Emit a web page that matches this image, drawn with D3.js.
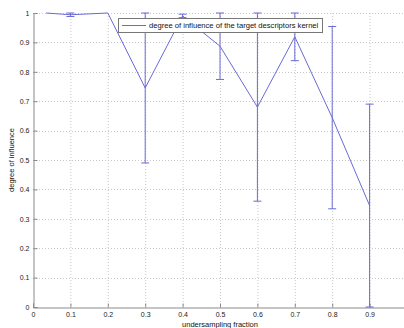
<!DOCTYPE html>
<html><head><meta charset="utf-8">
<script src="https://cdn.jsdelivr.net/npm/d3@7"></script>
<style>html,body{margin:0;padding:0;background:#fff;overflow:hidden}</style>
</head><body>
<svg id="c" width="404" height="328"></svg>
<script>
const xVals = [0.035, 0.1, 0.2, 0.3, 0.4, 0.5, 0.6, 0.7, 0.8, 0.9];
const yVals = [1.0, 0.994, 1.0, 0.745, 0.99, 0.887, 0.68, 0.919, 0.644, 0.345];
const errVals = [0, 0.006, 0, 0.255, 0.006, 0.113, 0.32, 0.081, 0.31, 0.345];
const xTicks = [0, 0.1, 0.2, 0.3, 0.4, 0.5, 0.6, 0.7, 0.8, 0.9];
const yTicks = [0, 0.1, 0.2, 0.3, 0.4, 0.5, 0.6, 0.7, 0.8, 0.9, 1];
const legendLabel = "degree of influence of the target descriptors kernel";
const xLabel = "undersampling fraction";
const yLabel = "degree of influence";

const svg = d3.select("#c");
const L = 33, R = 407, T = 13, B = 307;
const x = d3.scaleLinear().domain([0, 1]).range([L, R]);
const y = d3.scaleLinear().domain([0, 1]).range([B, T]);
const lineCol = "#6a6ad8";
const font = "'Liberation Sans', Arial, sans-serif";

// grid
const g = svg.append("g");
g.selectAll(".vg").data(xTicks.filter(d => d > 0)).join("line")
  .attr("x1", d => x(d) + 0.5).attr("x2", d => x(d) + 0.5)
  .attr("y1", T).attr("y2", B)
  .attr("stroke", "#c8c8c8").attr("stroke-width", 1).attr("stroke-dasharray", "1,2");
g.selectAll(".hg").data(yTicks.filter(d => d > 0)).join("line")
  .attr("y1", d => Math.round(y(d)) + 0.5).attr("y2", d => Math.round(y(d)) + 0.5)
  .attr("x1", L).attr("x2", R)
  .attr("stroke", "#c8c8c8").attr("stroke-width", 1).attr("stroke-dasharray", "1,2");

// axes
const xAxis = d3.axisBottom(x).tickValues(xTicks).tickSize(-4).tickPadding(5)
  .tickFormat(d => d === 0 ? "0" : d3.format(".1f")(d));
const yAxis = d3.axisLeft(y).tickValues(yTicks).tickSize(-4).tickPadding(4)
  .tickFormat(d => (d === 0 || d === 1) ? String(d) : d3.format(".1f")(d));
const ax = svg.append("g").attr("transform", `translate(0,${B + 0.5})`).call(xAxis);
const ay = svg.append("g").attr("transform", `translate(${L + 0.5},0)`).call(yAxis);
[ax, ay].forEach(a => {
  a.select(".domain").attr("stroke", "#8a8a8a");
  a.selectAll(".tick line").attr("stroke", "#8a8a8a");
  a.selectAll("text").attr("fill", "#222").style("font-family", font).style("font-size", "7px");
});

// error bars
const eb = svg.append("g");
const data = xVals.map((v, i) => ({x: v, y: yVals[i], e: errVals[i]}));
const ed = data.filter(d => d.e > 0);
eb.selectAll(".ev").data(ed).join("line")
  .attr("x1", d => x(d.x)).attr("x2", d => x(d.x))
  .attr("y1", d => y(d.y - d.e)).attr("y2", d => y(d.y + d.e))
  .attr("stroke", lineCol).attr("stroke-width", 1);
eb.selectAll(".ct").data(ed).join("line")
  .attr("x1", d => x(d.x) - 4).attr("x2", d => x(d.x) + 4)
  .attr("y1", d => y(d.y + d.e)).attr("y2", d => y(d.y + d.e))
  .attr("stroke", lineCol).attr("stroke-width", 1);
eb.selectAll(".cb").data(ed).join("line")
  .attr("x1", d => x(d.x) - 4).attr("x2", d => x(d.x) + 4)
  .attr("y1", d => y(d.y - d.e)).attr("y2", d => y(d.y - d.e))
  .attr("stroke", lineCol).attr("stroke-width", 1);

// line
svg.append("path").datum(data)
  .attr("d", d3.line().x(d => x(d.x)).y(d => y(d.y)))
  .attr("fill", "none").attr("stroke", lineCol).attr("stroke-width", 1);

// legend
const lg = svg.append("g");
lg.append("rect").attr("x", 118.5).attr("y", 18.5).attr("width", 204).attr("height", 14)
  .attr("fill", "#fff").attr("stroke", "#777").attr("stroke-width", 1);
lg.append("line").attr("x1", 122).attr("x2", 146).attr("y1", 25.5).attr("y2", 25.5)
  .attr("stroke", lineCol).attr("stroke-width", 1);
lg.append("text").attr("x", 149).attr("y", 28.3).text(legendLabel)
  .attr("fill", "#111").style("font-family", font).style("font-size", "7.6px");

// labels
svg.append("text").attr("x", (L + R) / 2).attr("y", 327).attr("text-anchor", "middle")
  .text(xLabel).attr("fill", "#111").style("font-family", font).style("font-size", "7.5px");
svg.append("text").attr("transform", `translate(14,${(T + B) / 2}) rotate(-90)`)
  .attr("text-anchor", "middle").text(yLabel)
  .attr("fill", "#111").style("font-family", font).style("font-size", "7.5px");
</script>
</body></html>
